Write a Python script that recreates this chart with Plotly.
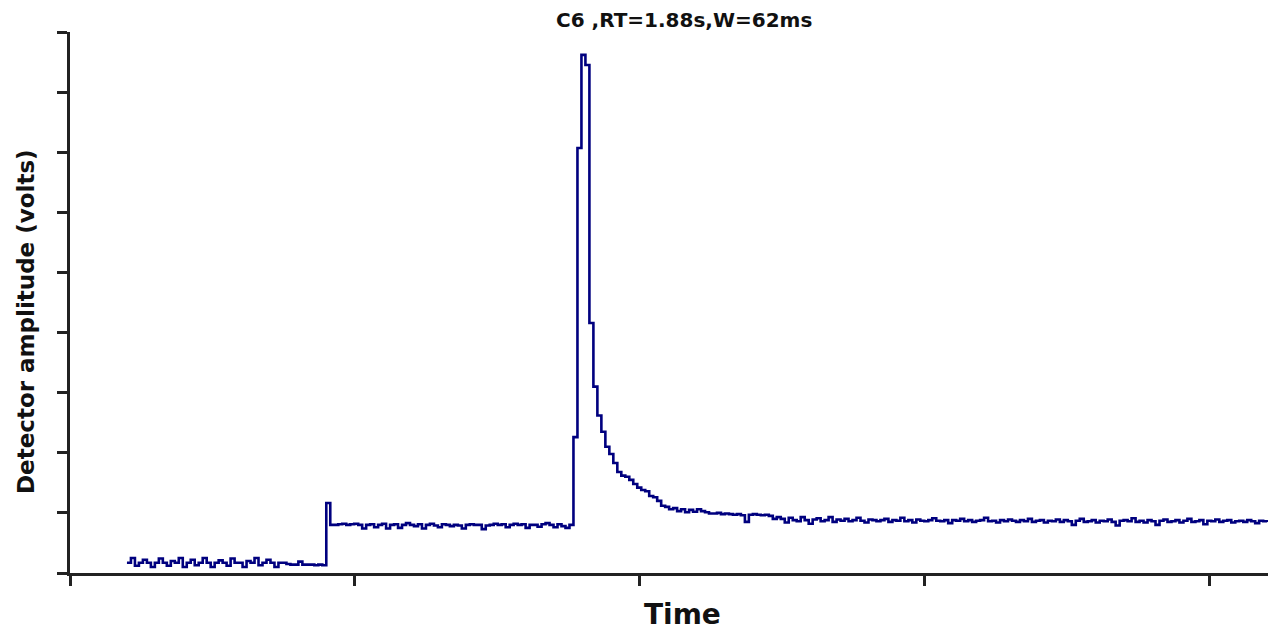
import numpy as np
import plotly.graph_objects as go

# ---- data (detector trace, volts) ----
t_start = 0.2      # s, first sample
dt = 0.014         # s, sampling interval

baseline_pre = [0.17,0.25,0.12,0.17,0.22,0.17,0.10,0.17,0.24,0.17,
                0.12,0.20,0.17,0.25,0.10,0.17,0.22,0.13,0.17,0.25,
                0.17,0.10,0.17,0.21,0.17,0.12,0.24,0.17,0.17,0.10,
                0.20,0.17,0.25,0.13,0.17,0.22,0.17,0.10,0.17,0.17,
                0.15,0.14,0.14,0.19,0.14,0.14,0.14,0.13,0.14,0.13]

plateau = [1.165,
           0.80,0.80,0.81,0.82,0.80,0.81,0.82,0.80,0.74,0.80,
           0.81,0.76,0.80,0.82,0.74,0.80,0.81,0.75,0.80,0.83,
           0.80,0.78,0.81,0.74,0.80,0.82,0.79,0.76,0.81,0.80,
           0.78,0.80,0.79,0.74,0.80,0.81,0.80,0.80,0.73,0.79,
           0.80,0.82,0.80,0.81,0.76,0.80,0.82,0.80,0.81,0.75,
           0.80,0.80,0.77,0.81,0.83,0.80,0.76,0.81,0.78,0.75,
           0.80]

peak = [2.26, 7.07, 8.62, 8.45, 4.16]

tail = [3.10,2.62,2.35,2.10,1.98,1.83,1.68,1.62,1.60,1.55,
        1.48,1.42,1.38,1.36,1.28,1.26,1.20,1.12,1.10,1.06,
        1.08,1.03,1.06,1.01,1.05,1.02,1.06,1.03,1.01,0.99,
        0.99,1.00,0.98,0.99,0.98,0.97,0.98,0.96,0.85,0.97,
        0.98,0.97,0.96,0.97,0.95,0.90,0.93,
        0.90,0.84,0.92,0.88,0.86,0.93,0.88,0.82,0.89,0.91,0.86,0.88,0.93,0.85,0.89,0.87,0.90,0.86,0.88,0.92,
        0.87,0.84,0.89,0.88,0.86,0.88,0.90,0.85,0.88,0.87,0.92,0.86,0.88,0.84,0.89,0.87,0.86,0.88,0.91,0.87,
        0.86,0.88,0.83,0.88,0.87,0.90,0.86,0.88,0.85,0.87,0.88,0.92,0.86,0.87,0.84,0.88,0.86,0.89,0.87,0.85,
        0.88,0.86,0.90,0.85,0.87,0.88,0.84,0.87,0.86,0.89,0.85,0.88,0.86,0.80,0.87,0.90,0.85,0.86,0.88,0.84,
        0.87,0.86,0.89,0.85,0.79,0.87,0.88,0.86,0.91,0.85,0.87,0.84,0.88,0.86,0.80,0.87,0.89,0.85,0.86,0.88,
        0.84,0.87,0.90,0.85,0.86,0.88,0.81,0.87,0.86,0.89,0.85,0.87,0.88,0.84,0.86,0.87,0.85,0.88,0.86,0.83,
        0.87,0.86,0.85]

title_text = "C6 ,RT=1.88s,W=62ms"
x_title = "Time"
y_title = "Detector amplitude (volts)"

signal = baseline_pre + plateau + peak + tail
time = t_start + dt * np.arange(len(signal))

fig = go.Figure()
fig.add_trace(go.Scatter(
    x=time, y=signal, mode="lines",
    line=dict(color="#00007f", width=2.6, shape="hv"),
    showlegend=False, hoverinfo="skip"))

W, H = 1274, 633
ml, mr, mt, mb = 70, 6, 32, 60
pw, ph = W - ml - mr, H - mt - mb

def px_to_paper(px, py):
    return (px - ml) / pw, (H - mb - py) / ph

axis_common = dict(showgrid=False, zeroline=False, showticklabels=False,
                   showline=True, linecolor="#222222", linewidth=2.5,
                   ticks="outside", ticklen=10, tickwidth=2.5, tickcolor="#222222",
                   mirror=False)

fig.update_layout(
    width=W, height=H,
    margin=dict(l=ml, r=mr, t=mt, b=mb, pad=0),
    paper_bgcolor="white", plot_bgcolor="white",
    xaxis=dict(range=[0, 4.207], tick0=0, dtick=1, **axis_common),
    yaxis=dict(range=[0, 9.0], tick0=0, dtick=1, **axis_common),
)

tx, ty = px_to_paper(684, 20)
fig.add_annotation(text="<b>" + title_text + "</b>", x=tx, y=ty, xref="paper", yref="paper",
                   xanchor="center", yanchor="middle", showarrow=False,
                   font=dict(family="DejaVu Sans", size=20, color="#111111"))
xx, xy = px_to_paper(682, 614)
fig.add_annotation(text="<b>" + x_title + "</b>", x=xx, y=xy, xref="paper", yref="paper",
                   xanchor="center", yanchor="middle", showarrow=False,
                   font=dict(family="DejaVu Sans", size=28, color="#111111"))
yx, yy = px_to_paper(26, 322)
fig.add_annotation(text="<b>" + y_title + "</b>", x=yx, y=yy, xref="paper", yref="paper",
                   xanchor="center", yanchor="middle", showarrow=False, textangle=-90,
                   font=dict(family="DejaVu Sans", size=23, color="#111111"))

fig.write_html("out.html")
